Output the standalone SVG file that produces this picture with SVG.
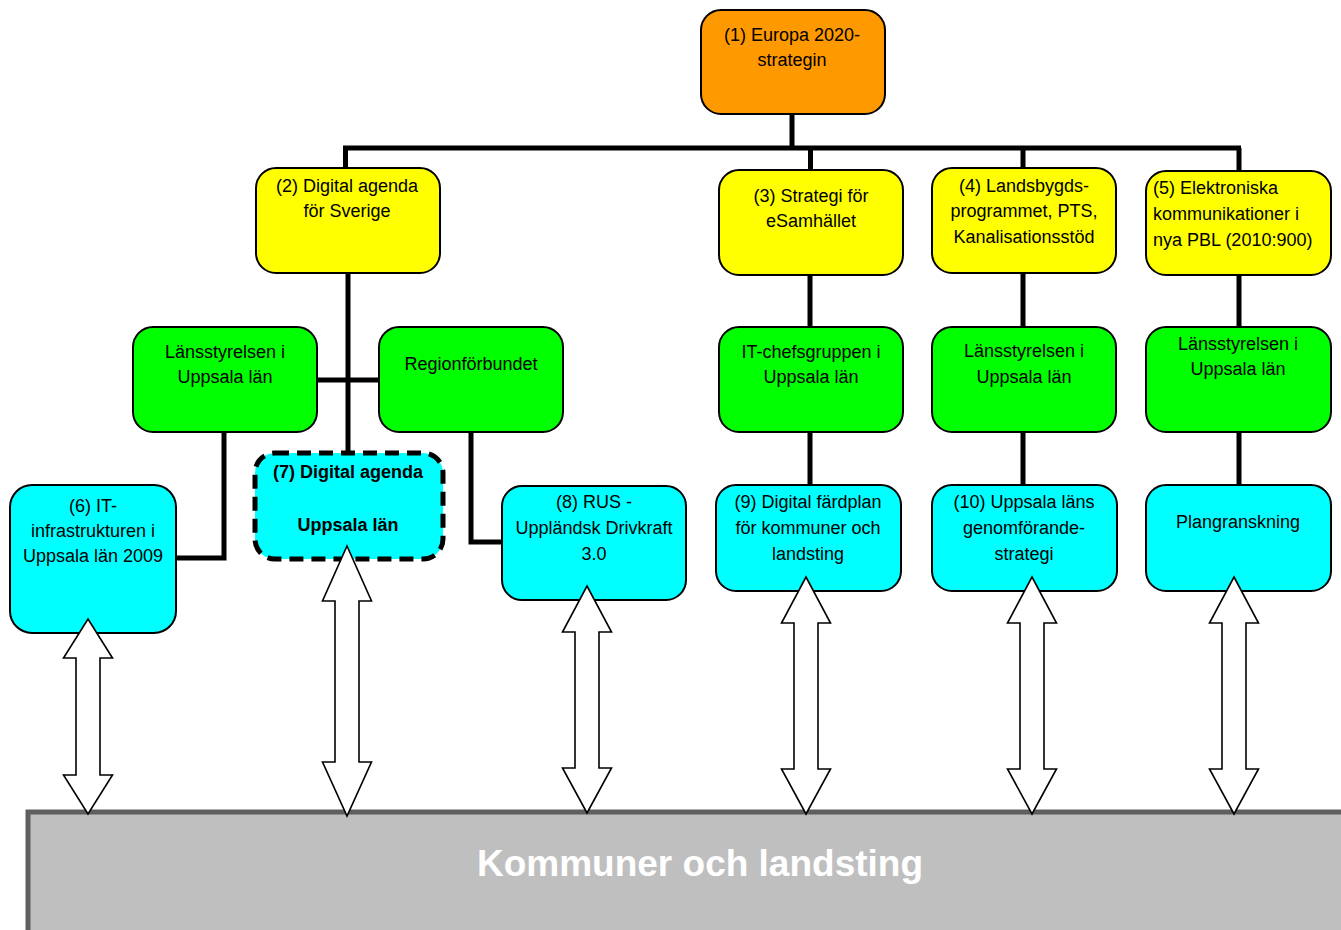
<svg xmlns="http://www.w3.org/2000/svg" width="1341" height="930" viewBox="0 0 1341 930">
<style>
.n{stroke:#000;stroke-width:2}
.o{fill:#FF9900}.y{fill:#FFFF00}.g{fill:#00FF00}.c{fill:#00FFFF}
.t{font-family:"Liberation Sans",Arial,sans-serif;font-size:18px;fill:#000;text-anchor:middle}
.b{font-weight:bold}
.l{text-anchor:start}
.k{fill:none;stroke:#000;stroke-width:5}
.a{fill:#fff;stroke:#000;stroke-width:1.6;stroke-linejoin:miter}
</style>
<rect width="1341" height="930" fill="#fff"/>
<g id="connectors">
<path class="k" d="M792 114V150" stroke-width="6"/>
<path class="k" d="M343 148H1241M345.5 148V168M810.5 148V170M1023 148V168M1239 148V171"/>
<path class="k" d="M348 273V453M317 380H379M224 432V558H176M471 432V542H502"/>
<path class="k" d="M810 275V327M810 432V485M1023 273V327M1023 432V485M1239 275V327M1239 432V485"/>
</g>
<g id="n1"><rect class="n o" x="701" y="10" width="184" height="104" rx="20"/>
<text class="t" x="792" y="41">(1) Europa 2020-</text><text class="t" x="792" y="66">strategin</text></g>
<g id="n2"><rect class="n y" x="256" y="168" width="184" height="105" rx="20"/>
<text class="t" x="347" y="192">(2) Digital agenda</text><text class="t" x="347" y="217">för Sverige</text></g>
<g id="n3"><rect class="n y" x="719" y="170" width="184" height="105" rx="20"/>
<text class="t" x="811" y="202">(3) Strategi för</text><text class="t" x="811" y="227">eSamhället</text></g>
<g id="n4"><rect class="n y" x="932" y="168" width="184" height="105" rx="20"/>
<text class="t" x="1024" y="192">(4) Landsbygds-</text><text class="t" x="1024" y="217">programmet, PTS,</text><text class="t" x="1024" y="243">Kanalisationsstöd</text></g>
<g id="n5"><rect class="n y" x="1146" y="171" width="185" height="104" rx="20"/>
<text class="t l" x="1153" y="194">(5) Elektroniska</text><text class="t l" x="1153" y="220">kommunikationer i</text><text class="t l" x="1153" y="246">nya PBL (2010:900)</text></g>
<g id="g1"><rect class="n g" x="133" y="327" width="184" height="105" rx="20"/>
<text class="t" x="225" y="358">Länsstyrelsen i</text><text class="t" x="225" y="383">Uppsala län</text></g>
<g id="g2"><rect class="n g" x="379" y="327" width="184" height="105" rx="20"/>
<text class="t" x="471" y="370">Regionförbundet</text></g>
<g id="g3"><rect class="n g" x="719" y="327" width="184" height="105" rx="20"/>
<text class="t" x="811" y="358">IT-chefsgruppen i</text><text class="t" x="811" y="383">Uppsala län</text></g>
<g id="g4"><rect class="n g" x="932" y="327" width="184" height="105" rx="20"/>
<text class="t" x="1024" y="357">Länsstyrelsen i</text><text class="t" x="1024" y="383">Uppsala län</text></g>
<g id="g5"><rect class="n g" x="1146" y="327" width="185" height="105" rx="20"/>
<text class="t" x="1238" y="350">Länsstyrelsen i</text><text class="t" x="1238" y="375">Uppsala län</text></g>
<g id="n6"><rect class="n c" x="10" y="485" width="166" height="148" rx="22"/>
<text class="t" x="93" y="512">(6) IT-</text><text class="t" x="93" y="537">infrastrukturen i</text><text class="t" x="93" y="562">Uppsala län 2009</text></g>
<g id="n7"><rect class="c" x="255" y="453" width="188" height="106" rx="20" stroke="#000" stroke-width="5" stroke-dasharray="14 8"/>
<text class="t b" x="348" y="478">(7) Digital agenda</text><text class="t b" x="348" y="531">Uppsala län</text></g>
<g id="n8"><rect class="n c" x="502" y="486" width="184" height="114" rx="20"/>
<text class="t" x="594" y="508">(8) RUS -</text><text class="t" x="594" y="534">Uppländsk Drivkraft</text><text class="t" x="594" y="560">3.0</text></g>
<g id="n9"><rect class="n c" x="716" y="485" width="185" height="106" rx="20"/>
<text class="t" x="808" y="508">(9) Digital färdplan</text><text class="t" x="808" y="534">för kommuner och</text><text class="t" x="808" y="560">landsting</text></g>
<g id="n10"><rect class="n c" x="932" y="485" width="185" height="106" rx="20"/>
<text class="t" x="1024" y="508">(10) Uppsala läns</text><text class="t" x="1024" y="534">genomförande-</text><text class="t" x="1024" y="560">strategi</text></g>
<g id="n11"><rect class="n c" x="1146" y="485" width="185" height="106" rx="20"/>
<text class="t" x="1238" y="528">Plangranskning</text></g>
<g id="bar"><rect x="28" y="812" width="1330" height="140" fill="#BFBFBF" stroke="#5F5F5F" stroke-width="5"/>
<text x="700" y="876" font-family="Liberation Sans,Arial,sans-serif" font-size="37" font-weight="bold" fill="#fff" text-anchor="middle">Kommuner och landsting</text></g>
<g id="arrows">
<polygon class="a" points="88,619 112.5,658 100,658 100,775 112.5,775 88,814 63.5,775 76,775 76,658 63.5,658"/>
<polygon class="a" points="347,546 371.5,601 359,601 359,762 371.5,762 347,816 322.5,762 335,762 335,601 322.5,601"/>
<polygon class="a" points="587,586 611.5,632 599,632 599,768 611.5,768 587,813 562.5,768 575,768 575,632 562.5,632"/>
<polygon class="a" points="806,577 830.5,623 818,623 818,769 830.5,769 806,814 781.5,769 794,769 794,623 781.5,623"/>
<polygon class="a" points="1032,577 1056.5,623 1044,623 1044,769 1056.5,769 1032,814 1007.5,769 1020,769 1020,623 1007.5,623"/>
<polygon class="a" points="1234,577 1258.5,623 1246,623 1246,769 1258.5,769 1234,814 1209.5,769 1222,769 1222,623 1209.5,623"/>
</g>
</svg>
